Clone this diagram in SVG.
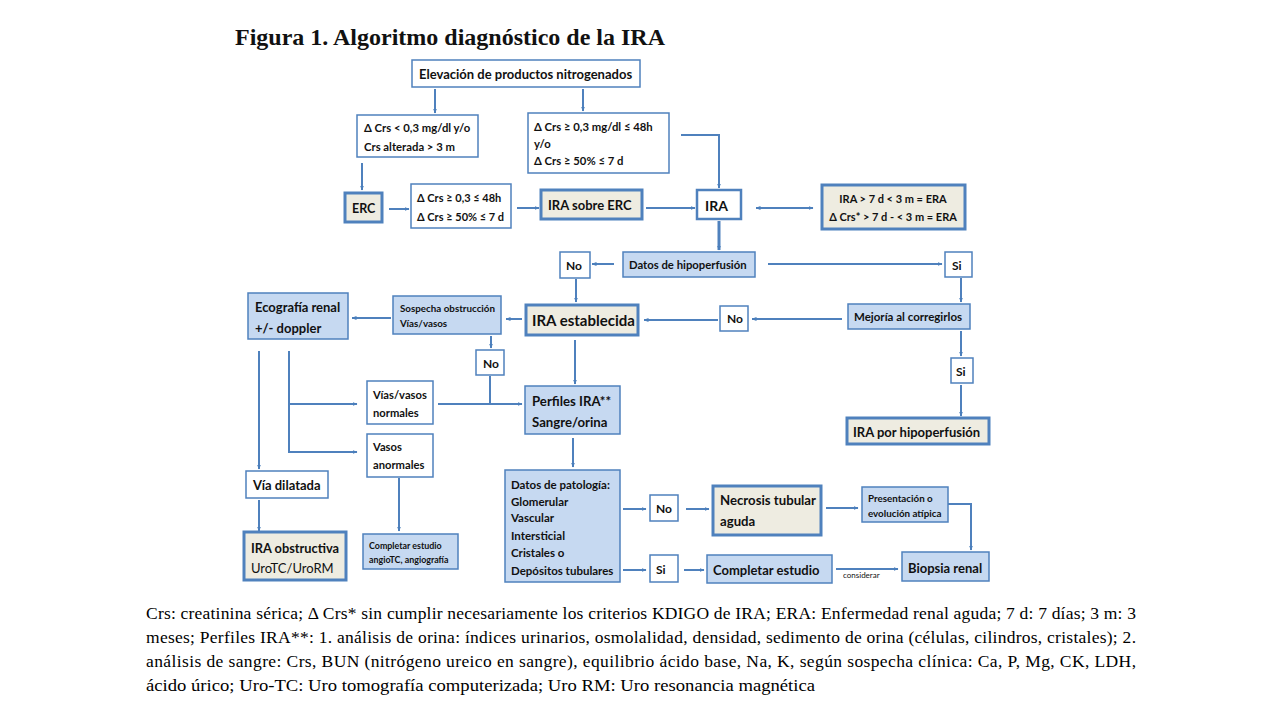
<svg xmlns="http://www.w3.org/2000/svg" width="1280" height="720" viewBox="0 0 1280 720">
<defs>
<marker id="ah" viewBox="0 0 10 10" refX="9" refY="5" markerWidth="5" markerHeight="5" orient="auto-start-reverse" markerUnits="userSpaceOnUse">
<path d="M0,1 L10,5 L0,9 z" fill="#4a7ebb"/>
</marker>
<style>
.b{fill:#fff;stroke:#4f81bd;stroke-width:1.5}
.l{fill:#c6d9f1;stroke:#4f81bd;stroke-width:1.5}
.k{fill:#eeece1;stroke:#4f81bd;stroke-width:3}
.w{fill:#fff;stroke:#4f81bd;stroke-width:2.5}
text{font-family:Lato,"Liberation Sans",sans-serif;font-weight:700;fill:#111}
.r{font-weight:400}
.c{stroke:#4f81bd;stroke-width:2;fill:none}
.c line,.c path,.c polyline{marker-end:url(#ah)}
.fn{font-family:"Liberation Serif","Times New Roman",serif;font-weight:400;font-size:17.5px;fill:#000}
</style>
</defs>
<rect width="1280" height="720" fill="#fff"/>
<text x="235" y="45" style="font-family:'Liberation Serif',serif;font-size:24px">Figura 1. Algoritmo diagnóstico de la IRA</text>

<g id="connectors" class="c">
<line x1="435" y1="89" x2="435" y2="113"/>
<line x1="583" y1="89" x2="583" y2="111"/>
<line x1="362" y1="163" x2="362" y2="190"/>
<line x1="389" y1="209" x2="409" y2="209"/>
<line x1="517" y1="208" x2="539" y2="208"/>
<line x1="646" y1="208" x2="695" y2="208"/>
<polyline points="681,135 719,135 719,188"/>
<line x1="756" y1="208" x2="813" y2="208" style="marker-start:url(#ah)"/>
<line x1="719" y1="221" x2="719" y2="250" stroke-width="3"/>
<line x1="614" y1="264" x2="592" y2="264"/>
<line x1="768" y1="264" x2="942" y2="264"/>
<line x1="961" y1="278" x2="961" y2="302"/>
<line x1="961" y1="331" x2="961" y2="356"/>
<line x1="961" y1="385" x2="961" y2="416"/>
<line x1="842" y1="319" x2="752" y2="319"/>
<line x1="718" y1="320" x2="644" y2="320"/>
<line x1="576" y1="279" x2="576" y2="302"/>
<line x1="522" y1="319" x2="506" y2="319"/>
<line x1="391" y1="318" x2="352" y2="318"/>
<line x1="491" y1="336" x2="491" y2="348"/>
<line x1="575" y1="340" x2="575" y2="384"/>
<line x1="438" y1="404" x2="522" y2="404"/>
<path d="M490,376 V404" style="marker-end:none"/>
<line x1="259" y1="351" x2="259" y2="469"/>
<path d="M289,351 V452 H357"/>
<line x1="289" y1="404" x2="357" y2="404"/>
<line x1="399" y1="478" x2="399" y2="531"/>
<line x1="259" y1="500" x2="259" y2="531"/>
<line x1="573" y1="438" x2="573" y2="467"/>
<line x1="623" y1="509" x2="646" y2="509"/>
<line x1="686" y1="509" x2="709" y2="509"/>
<line x1="623" y1="570" x2="646" y2="570"/>
<line x1="684" y1="570" x2="704" y2="570"/>
<line x1="826" y1="508" x2="858" y2="508"/>
<polyline points="948,504 971,504 971,550"/>
<line x1="836" y1="569" x2="898" y2="569"/>
</g>

<g id="n-elevacion"><rect class="b" x="412" y="60" width="228" height="27"/><text x="419" y="79" font-size="13">Elevación de productos nitrogenados</text></g>
<g id="n-crs-menor"><rect class="b" x="357" y="115" width="121" height="42"/><text x="364" y="132" font-size="11.3">Δ Crs &lt; 0,3 mg/dl y/o</text><text x="364" y="151" font-size="11.3">Crs alterada &gt; 3 m</text></g>
<g id="n-crs-mayor"><rect class="b" x="528" y="113" width="141" height="60"/><text x="534" y="131" font-size="11.3">Δ Crs ≥ 0,3 mg/dl ≤ 48h</text><text x="534" y="148" font-size="11.3">y/o</text><text x="534" y="165" font-size="11.3">Δ Crs ≥ 50% ≤ 7 d</text></g>
<g id="n-erc"><rect class="k" x="345" y="193" width="37" height="29"/><text x="352" y="213" font-size="12.5">ERC</text></g>
<g id="n-crs-erc"><rect class="b" x="411" y="184" width="100" height="44"/><text x="417" y="202" font-size="11">Δ Crs ≥ 0,3 ≤ 48h</text><text x="417" y="221" font-size="11">Δ Crs ≥ 50% ≤ 7 d</text></g>
<g id="n-ira-erc"><rect class="k" x="541" y="190" width="101" height="29"/><text x="548" y="210" font-size="13">IRA sobre  ERC</text></g>
<g id="n-ira"><rect class="w" x="697" y="190" width="44" height="29"/><text x="705" y="211" font-size="14">IRA</text></g>
<g id="n-era"><rect class="k" x="822" y="185" width="143" height="44"/><text x="893" y="203" font-size="11" text-anchor="middle">IRA &gt; 7 d &lt; 3 m = ERA</text><text x="893" y="221" font-size="11" text-anchor="middle">Δ Crs* &gt; 7 d - &lt; 3 m = ERA</text></g>
<g id="n-hipoperfusion"><rect class="l" x="623" y="252" width="132" height="25"/><text x="629" y="269" font-size="11.3">Datos de hipoperfusión</text></g>
<g id="n-no1"><rect class="b" x="560" y="252" width="30" height="26"/><text x="566" y="270" font-size="12">No</text></g>
<g id="n-si1"><rect class="b" x="945" y="252" width="27" height="25"/><text x="952" y="270" font-size="12">Si</text></g>
<g id="n-mejoria"><rect class="l" x="848" y="304" width="122" height="25"/><text x="854" y="321" font-size="11.5">Mejoría al corregirlos</text></g>
<g id="n-no2"><rect class="b" x="720" y="306" width="28" height="25"/><text x="727" y="323" font-size="12">No</text></g>
<g id="n-si2"><rect class="b" x="951" y="358" width="22" height="25"/><text x="956" y="376" font-size="12">Si</text></g>
<g id="n-ira-hipo"><rect class="k" x="847" y="418" width="142" height="26"/><text x="853" y="437" font-size="13">IRA por hipoperfusión</text></g>
<g id="n-ira-establecida"><rect class="k" x="526" y="305" width="112" height="30"/><text x="532" y="326" font-size="15">IRA establecida</text></g>
<g id="n-sospecha"><rect class="l" x="393" y="296" width="108" height="38"/><text x="400" y="312" font-size="9.8">Sospecha obstrucción</text><text x="400" y="327" font-size="9.8">Vías/vasos</text></g>
<g id="n-ecografia"><rect class="l" x="248" y="293" width="100" height="46"/><text x="255" y="312" font-size="13">Ecografía renal</text><text x="255" y="333" font-size="13">+/- doppler</text></g>
<g id="n-no3"><rect class="b" x="476" y="350" width="28" height="25"/><text x="483" y="368" font-size="12">No</text></g>
<g id="n-normales"><rect class="b" x="367" y="381" width="66" height="43"/><text x="373" y="399" font-size="11.2">Vías/vasos</text><text x="373" y="417" font-size="11.2">normales</text></g>
<g id="n-perfiles"><rect class="l" x="525" y="386" width="95" height="48"/><text x="532" y="406" font-size="13.2">Perfiles IRA**</text><text x="532" y="427" font-size="13.2">Sangre/orina</text></g>
<g id="n-anormales"><rect class="b" x="367" y="434" width="66" height="43"/><text x="373" y="451" font-size="11.2">Vasos</text><text x="373" y="469" font-size="11.2">anormales</text></g>
<g id="n-dilatada"><rect class="b" x="246" y="471" width="82" height="27"/><text x="253" y="490" font-size="13">Vía dilatada</text></g>
<g id="n-obstructiva"><rect class="k" x="244" y="532" width="102" height="48"/><text x="251" y="553" font-size="12.8">IRA obstructiva</text><text x="251" y="573" font-size="13" class="r">UroTC/UroRM</text></g>
<g id="n-angio"><rect class="l" x="363" y="534" width="95" height="35"/><text x="369" y="549" font-size="8.9">Completar estudio</text><text x="369" y="563" font-size="8.9">angioTC, angiografía</text></g>
<g id="n-patologia"><rect class="l" x="505" y="470" width="115" height="112"/>
<text x="511" y="489" font-size="11.5">Datos de patología:</text><text x="511" y="506" font-size="11.5">Glomerular</text><text x="511" y="522" font-size="11.5">Vascular</text><text x="511" y="540" font-size="11.5">Intersticial</text><text x="511" y="557" font-size="11.5">Cristales o</text><text x="511" y="575" font-size="11.5">Depósitos tubulares</text></g>
<g id="n-no4"><rect class="b" x="650" y="495" width="28" height="26"/><text x="656" y="513" font-size="12">No</text></g>
<g id="n-si3"><rect class="b" x="650" y="555" width="28" height="27"/><text x="656" y="574" font-size="12">Si</text></g>
<g id="n-necrosis"><rect class="k" x="713" y="486" width="108" height="49"/><text x="720" y="505" font-size="13.2">Necrosis tubular</text><text x="720" y="526" font-size="13.2">aguda</text></g>
<g id="n-completar"><rect class="l" x="707" y="555" width="125" height="28"/><text x="713" y="575" font-size="13">Completar estudio</text></g>
<g id="n-presentacion"><rect class="l" x="862" y="487" width="86" height="35"/><text x="868" y="502" font-size="9.8">Presentación o</text><text x="868" y="517" font-size="9.8">evolución atípica</text></g>
<g id="n-biopsia"><rect class="l" x="902" y="552" width="87" height="29"/><text x="908" y="573" font-size="13">Biopsia renal</text></g>
<text x="843" y="578" font-size="8" class="r" fill="#333">considerar</text>

<g id="footnote">
<text class="fn" x="146" y="619" textLength="990" lengthAdjust="spacing">Crs: creatinina sérica; Δ Crs* sin cumplir necesariamente los criterios KDIGO de IRA; ERA: Enfermedad renal aguda; 7 d: 7 días; 3 m: 3</text>
<text class="fn" x="146" y="643" textLength="990" lengthAdjust="spacing">meses; Perfiles IRA**: 1. análisis de orina: índices urinarios, osmolalidad, densidad, sedimento de orina (células, cilindros, cristales); 2.</text>
<text class="fn" x="146" y="667" textLength="990" lengthAdjust="spacing">análisis de sangre: Crs, BUN (nitrógeno ureico en sangre), equilibrio ácido base, Na, K, según sospecha clínica: Ca, P, Mg, CK, LDH,</text>
<text class="fn" x="146" y="691" textLength="669" lengthAdjust="spacingAndGlyphs">ácido úrico; Uro-TC: Uro tomografía computerizada; Uro RM: Uro resonancia magnética</text>
</g>
</svg>
